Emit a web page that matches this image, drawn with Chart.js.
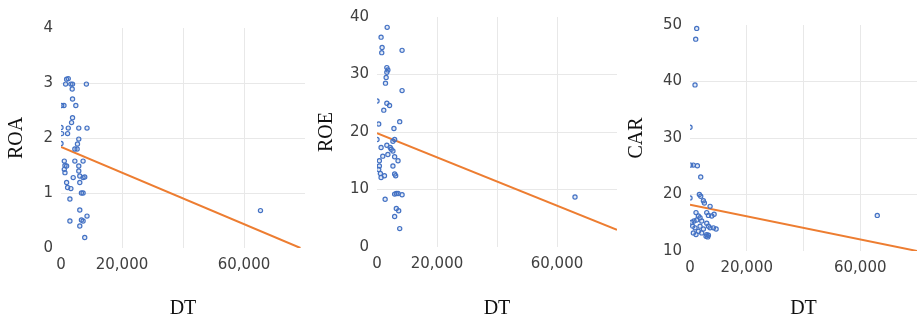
<!DOCTYPE html>
<html>
<head>
<meta charset="utf-8">
<script src="https://cdn.jsdelivr.net/npm/chart.js@4/dist/chart.umd.min.js"></script>
<style>
  html, body { margin: 0; padding: 0; background: #fff; }
  #wrap { position: relative; width: 917px; height: 321px; overflow: hidden; }
  canvas { position: absolute; top: 0; }
</style>
</head>
<body>
<div id="wrap">
  <canvas id="roaChart" width="310" height="321" style="left:0px"></canvas>
  <canvas id="roeChart" width="310" height="321" style="left:310px"></canvas>
  <canvas id="carChart" width="297" height="321" style="left:620px"></canvas>
</div>
<script>
// ===== データ（DT と各指標） =====
const roaDT = [1840, 2380, 1510, 3240, 3780, 3670, 8320, 3780, 4860, 220, 970, 3780, 3460, 0, 2380, 5830, 8530, 220, 2160, 5830, 5400, 0, 4540, 5290, 1080, 4540, 7240, 1300, 1840, 5830, 1080, 5830, 1300, 6160, 4000, 7780, 7240, 1840, 6160, 2160, 3240, 6700, 7240, 2920, 6160, 8530, 2920, 6700, 7240, 6160, 7780, 65400];
const roaVal = [3.07, 3.08, 2.98, 2.98, 2.98, 2.89, 2.98, 2.71, 2.59, 2.59, 2.59, 2.37, 2.28, 2.19, 2.18, 2.18, 2.18, 2.08, 2.08, 1.98, 1.89, 1.9, 1.8, 1.8, 1.58, 1.58, 1.58, 1.5, 1.49, 1.49, 1.43, 1.4, 1.37, 1.31, 1.28, 1.29, 1.28, 1.19, 1.19, 1.1, 1.08, 1.0, 1.0, 0.89, 0.69, 0.58, 0.49, 0.51, 0.49, 0.4, 0.19, 0.68];

const roeDT = [3390, 1360, 1700, 1580, 8360, 3280, 3620, 3280, 3050, 2830, 8360, 0, 3280, 4180, 2260, 7570, 570, 5650, 0, 5880, 5310, 1360, 3280, 4410, 4750, 5310, 1920, 3620, 5880, 7010, 790, 790, 5310, 570, 1130, 1360, 2490, 5880, 6220, 6440, 7010, 8360, 5880, 2710, 6440, 7230, 5880, 7570, 66000];
const roeVal = [38.2, 36.5, 34.7, 33.8, 34.2, 31.2, 30.8, 30.4, 29.5, 28.5, 27.2, 25.4, 25.0, 24.6, 23.8, 21.8, 21.4, 20.6, 18.7, 18.7, 18.4, 17.3, 17.7, 17.3, 17.0, 16.7, 15.8, 16.1, 15.7, 15.0, 15.0, 14.1, 14.1, 13.5, 12.8, 12.1, 12.4, 12.7, 12.4, 9.3, 9.3, 9.1, 9.2, 8.3, 6.7, 6.3, 5.3, 3.2, 8.7];

const carDT = [2360, 2010, 1770, 0, 240, 1180, 2600, 3780, 0, 3300, 3780, 4720, 5070, 7080, 2120, 2950, 3540, 590, 1420, 2360, 4130, 5900, 6490, 7670, 8500, 940, 1770, 3540, 4720, 5900, 6490, 7080, 8260, 9200, 1180, 2120, 5900, 6490, 5660, 6250, 2950, 4130, 66000];
const carVal = [49.4, 47.5, 39.4, 31.9, 25.2, 25.2, 25.1, 23.1, 19.4, 20.0, 19.7, 18.9, 18.5, 17.9, 16.8, 16.2, 15.9, 15.1, 15.3, 15.5, 15.3, 16.8, 16.3, 16.2, 16.5, 14.4, 14.1, 14.4, 13.9, 14.9, 14.4, 14.1, 14.1, 13.9, 13.2, 12.9, 12.9, 12.8, 12.6, 12.5, 13.5, 13.2, 16.3];

// 回帰直線（始点・終点）
const roaTrendDT = [0, 78500];
const roaTrendVal = [1.84, 0];
const roeTrendDT = [0, 80000];
const roeTrendVal = [19.8, 3.0];
const carTrendDT = [0, 80000];
const carTrendVal = [18.2, 10.0];

// 目盛り
const xTicks = [0, 20000, 40000, 60000, 80000];
const xShownTicks = [0, 20000, 60000];
const roaTicks = [0, 1, 2, 3, 4];
const roeTicks = [0, 10, 20, 30, 40];
const carTicks = [10, 20, 30, 40, 50];

const xTitle = "DT";

const toPts = (xs, ys) => xs.map((x, i) => ({ x, y: ys[i] }));

const gridColor = c => {
  const n = c.scale.ticks.length;
  return (c.index === 0 || c.index === n - 1) ? "rgba(0,0,0,0)" : "#e8e8e8";
};

function makeChart(id, cfg) {
  const el = document.getElementById(id);
  const canvasH = 321;
  return new Chart(el, {
    type: "scatter",
    data: {
      datasets: [
        {
          data: toPts(cfg.dt, cfg.val),
          borderColor: "#4472C4",
          backgroundColor: "rgba(68,114,196,0.15)",
          pointRadius: 2.1,
          pointBorderWidth: 1.2,
          showLine: false
        },
        {
          data: toPts(cfg.trendDT, cfg.trendVal),
          borderColor: "#ED7D31",
          borderWidth: 2,
          pointRadius: 0,
          showLine: true,
          fill: false
        }
      ]
    },
    options: {
      responsive: false,
      animation: false,
      layout: {
        autoPadding: false,
        padding: { top: cfg.top, right: cfg.padRight, left: 0, bottom: 0 }
      },
      plugins: { legend: { display: false }, tooltip: { enabled: false } },
      scales: {
        x: {
          type: "linear",
          min: xTicks[0],
          max: xTicks[xTicks.length - 1],
          afterBuildTicks: s => { s.ticks = xTicks.map(v => ({ value: v })); },
          afterFit: s => {
            s.height = canvasH - cfg.bottom;
            s.paddingRight = 0; // 空ラベル分の余白を消す
          },
          border: { display: false },
          grid: { color: gridColor, drawTicks: false, lineWidth: 1 },
          ticks: {
            autoSkip: false,
            maxRotation: 0,
            padding: 8,
            color: "#404040",
            font: { family: "DejaVu Sans", size: 15 },
            callback: v => xShownTicks.includes(v) ? v.toLocaleString("en-US") : ""
          },
          title: {
            display: true,
            text: xTitle,
            color: "#111",
            font: { family: "Liberation Serif", size: 20 },
            padding: { top: 0, bottom: 0 }
          }
        },
        y: {
          type: "linear",
          min: cfg.yTicks[0],
          max: cfg.yTicks[cfg.yTicks.length - 1],
          afterBuildTicks: s => { s.ticks = cfg.yTicks.map(v => ({ value: v })); },
          afterFit: s => { s.width = cfg.yWidth; },
          border: { display: false },
          grid: { color: gridColor, drawTicks: false, lineWidth: 1 },
          ticks: {
            padding: 8,
            color: "#404040",
            font: { family: "DejaVu Sans", size: 15 }
          },
          title: {
            display: true,
            text: cfg.yTitle,
            color: "#111",
            font: { family: "Liberation Serif", size: 20 },
            padding: { top: 5, bottom: 0 }
          }
        }
      }
    }
  });
}

makeChart("roaChart", {
  dt: roaDT, val: roaVal, trendDT: roaTrendDT, trendVal: roaTrendVal,
  yTicks: roaTicks, yTitle: "ROA", top: 28, bottom: 248, yWidth: 61, padRight: 5
});
makeChart("roeChart", {
  dt: roeDT, val: roeVal, trendDT: roeTrendDT, trendVal: roeTrendVal,
  yTicks: roeTicks, yTitle: "ROE", top: 15, bottom: 247, yWidth: 67, padRight: 3
});
makeChart("carChart", {
  dt: carDT, val: carVal, trendDT: carTrendDT, trendVal: carTrendVal,
  yTicks: carTicks, yTitle: "CAR", top: 25, bottom: 251, yWidth: 70, padRight: 0
});
</script>
</body>
</html>
